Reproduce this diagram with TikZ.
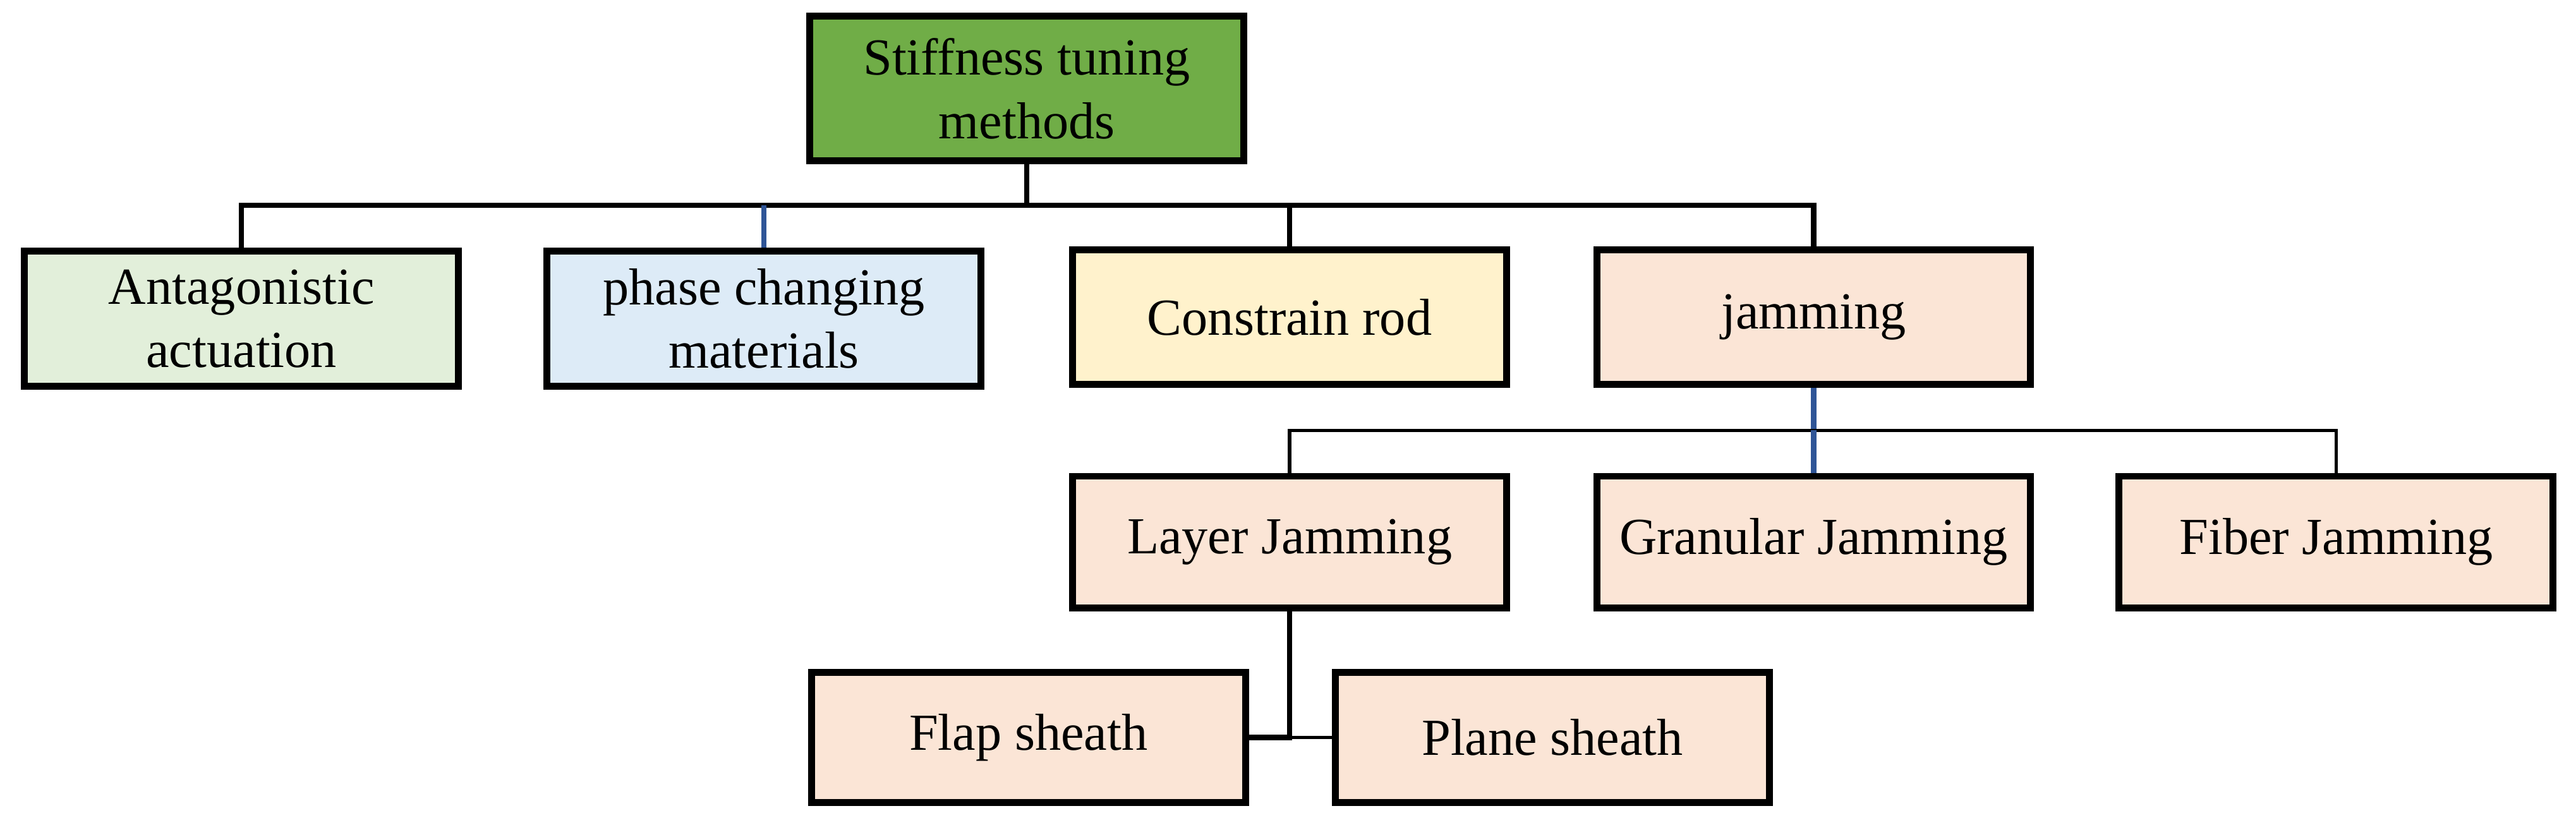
\documentclass[tikz,border=0pt]{standalone}
\usepackage{fontspec}
\setmainfont{Liberation Serif}
\definecolor{gr}{HTML}{70AD47}
\definecolor{lg}{HTML}{E2EFDA}
\definecolor{lb}{HTML}{DDEBF7}
\definecolor{ly}{HTML}{FFF2CC}
\definecolor{lo}{HTML}{FBE5D6}
\definecolor{bl}{HTML}{2F5597}
\begin{document}
\begin{tikzpicture}[x=0.01cm,y=-0.01cm,
 box/.style={draw=black,line width=1.2pt,minimum width=2.64cm,minimum height=0.82cm,align=center,inner sep=1pt,font=\fontsize{9}{11}\selectfont},
 ln/.style={draw=black,line width=0.9pt}]
\useasboundingbox (0,0) rectangle (1568,505);
\node[box,fill=gr,minimum height=0.88cm] (root) at (625,54) {Stiffness tuning\\methods};
\node[box,fill=lg] (ant) at (147,194) {Antagonistic\\actuation};
\node[box,fill=lb] (pha) at (465,194) {phase changing\\materials};
\node[box,fill=ly] (con) at (785,193) {Constrain rod};
\node[box,fill=lo] (jam) at (1104,193) {jamming};
\node[box,fill=lo,minimum height=0.80cm] (lay) at (785,330) {Layer Jamming};
\node[box,fill=lo,minimum height=0.80cm] (gra) at (1104,330) {Granular Jamming};
\node[box,fill=lo,minimum height=0.80cm] (fib) at (1422,330) {Fiber Jamming};
\node[box,fill=lo,minimum height=0.79cm] (fla) at (626,449) {Flap sheath};
\node[box,fill=lo,minimum height=0.79cm] (pla) at (945,449) {Plane sheath};
\coordinate (h1) at (625,125);
\coordinate (h2) at (1104,262);
\draw[ln] (root.south) -- (h1);
\draw[ln] (ant.north) |- (h1) -| (jam.north);
\draw[ln] (h1) -| (con.north);
\draw[draw=bl,line width=0.9pt] (pha.north) -- (pha.north|-h1);
\draw[draw=bl,line width=0.9pt] (jam.south) -- (h2);
\draw[draw=black,line width=0.6pt] (lay.north) |- (h2) -| (fib.north);
\draw[draw=bl,line width=0.9pt] (h2) -- (gra.north);
\draw[ln] (lay.south) |- (fla.east);
\draw[draw=black,line width=0.6pt] (lay.south|-fla.east) -- (pla.west);
\end{tikzpicture}
\end{document}
